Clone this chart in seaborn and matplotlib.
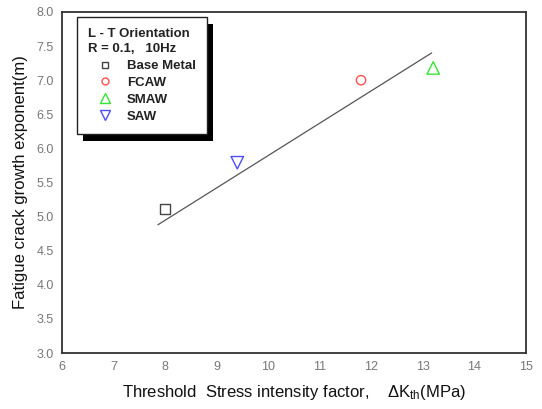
import matplotlib
matplotlib.use("Agg")
import matplotlib.pyplot as plt
import seaborn as sns
from matplotlib.lines import Line2D
from matplotlib.patches import Rectangle
from matplotlib.ticker import MultipleLocator

# ---- data ----
categories = ["Base Metal", "FCAW", "SMAW", "SAW"]
delta_k_th = [8.0, 11.8, 13.2, 9.4]
exponent_m = [5.11, 7.0, 7.18, 5.79]
fit_x = [7.86, 13.17]
fit_y = [4.88, 7.40]
x_ticks = [6, 7, 8, 9, 10, 11, 12, 13, 14, 15]
y_ticks = [3.0, 3.5, 4.0, 4.5, 5.0, 5.5, 6.0, 6.5, 7.0, 7.5, 8.0]
legend_title = "L - T Orientation\nR = 0.1,   10Hz"

colors = ["#444444", "#ff5050", "#33e633", "#4d4dff"]
markers = ["s", "o", "^", "v"]
sizes = [45, 45, 80, 80]

sns.set_style("white")
plt.rcParams["font.family"] = ["Liberation Sans", "DejaVu Sans"]
plt.rcParams["mathtext.fontset"] = "custom"
plt.rcParams["mathtext.rm"] = "Liberation Sans"
plt.rcParams["mathtext.it"] = "Liberation Sans"

fig = plt.figure(figsize=(5.42, 4.09), dpi=100)
ax = fig.add_axes([62 / 542, 1 - 353 / 409, 464 / 542, 341 / 409])

sns.lineplot(x=fit_x, y=fit_y, ax=ax, color="#555555", linewidth=0.9)

for cat, xv, yv, c, m, s in zip(categories, delta_k_th, exponent_m, colors, markers, sizes):
    sns.scatterplot(x=[xv], y=[yv], ax=ax, marker=m, s=s)
    coll = ax.collections[-1]
    coll.set_facecolor("none")
    coll.set_edgecolor(c)
    coll.set_linewidth(1.0)

ax.set_xlim(6, 15)
ax.set_ylim(3, 8)
ax.set_xticks(x_ticks)
ax.set_yticks(y_ticks)
ax.set_yticklabels([f"{v:.1f}" for v in y_ticks])
ax.xaxis.set_minor_locator(MultipleLocator(0.5))
ax.yaxis.set_minor_locator(MultipleLocator(0.25))
ax.tick_params(axis="both", which="major", direction="in", length=6, width=1.2,
               colors="#222222", labelcolor="#777777", labelsize=9, pad=6,
               top=False, right=False)
ax.tick_params(axis="both", which="minor", direction="in", length=3, width=1.0,
               colors="#222222", top=False, right=False)
for sp in ax.spines.values():
    sp.set_color("#333333")
    sp.set_linewidth(1.3)

ax.set_xlabel("Threshold  Stress intensity factor,    \u0394K$_{th}$(MPa)",
              fontsize=12, color="#111111", labelpad=7)
ax.set_ylabel("Fatigue crack growth exponent(m)", fontsize=12, color="#111111",
              labelpad=6)

handles = [Line2D([], [], linestyle="none", marker=m, markersize=5 if m in "so" else 6.5,
                  markerfacecolor="none", markeredgecolor=c, markeredgewidth=1.0)
           for c, m in zip(colors, markers)]
leg = ax.legend(handles, categories, title=legend_title, loc="upper left",
                bbox_to_anchor=(15 / 464, 1 - 5 / 341), borderaxespad=0, fancybox=False,
                edgecolor="#222222", framealpha=1, fontsize=9.5,
                title_fontsize=9.5, alignment="left", handlelength=2.5,
                handletextpad=0.45, labelspacing=0.35, borderpad=0.85)
leg.get_frame().set_linewidth(1.0)
for t in leg.get_texts():
    t.set_fontweight("bold")
    t.set_color("#222222")
leg.get_title().set_fontweight("bold")
leg.get_title().set_color("#222222")
leg.get_title().set_linespacing(1.35)
leg.set_zorder(10)

fig.canvas.draw()
bb = leg.get_window_extent()
inv = fig.transFigure.inverted()
(x0, y0) = inv.transform((bb.x0 + 6, bb.y0 - 7))
(x1, y1) = inv.transform((bb.x1 + 6, bb.y1 - 7))
shadow = Rectangle((x0, y0), x1 - x0, y1 - y0, transform=fig.transFigure,
                   facecolor="black", edgecolor="none", zorder=9)
ax.add_artist(shadow)
shadow.set_clip_on(False)

fig.savefig("out.png", dpi=100)
